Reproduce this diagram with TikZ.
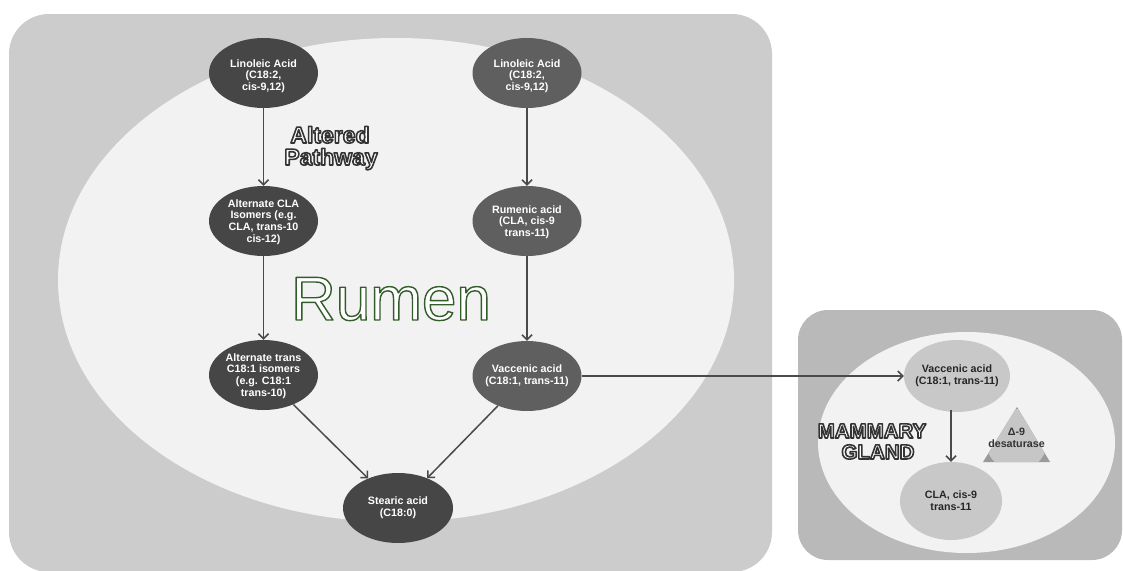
\documentclass[tikz,border=0pt]{standalone}
\usepackage{fontspec}
\setmainfont{Liberation Sans}
\usetikzlibrary{arrows.meta,calc,shapes.geometric}
\definecolor{rumenbox}{HTML}{CCCCCC}
\definecolor{mambox}{HTML}{B9B9B9}
\definecolor{inner}{HTML}{F2F2F2}
\definecolor{darknode}{HTML}{464646}
\definecolor{midnode}{HTML}{5F5F5F}
\definecolor{lightnode}{HTML}{C8C8C8}
\definecolor{arrowc}{HTML}{4A4A4A}
\definecolor{trifill}{HTML}{9A9A9A}
\definecolor{circfill}{HTML}{C6C6C6}
% white text stroked with an outline colour (#1 = "r g b" stroke colour, #2 = line width)
\newcommand\strokedtext[3]{%
  \special{pdf:literal #1 RG #2 w 1 j 2 Tr}#3\special{pdf:literal 0 Tr}}
\tikzset{
  ell/.style={ellipse, inner sep=0, minimum width=109pt, minimum height=70pt, draw=none},
  darkell/.style={ell, fill=darknode},
  midell/.style={ell, fill=midnode},
  lightell/.style={ell, fill=lightnode},
  txt/.style={align=center, inner sep=0, font=\bfseries\fontsize{10.7}{11.7}\selectfont, text=white},
  darktxt/.style={txt, text=black!85},
  arr/.style={draw=arrowc, line width=1.5pt, -{Straight Barb[length=5pt,width=10pt]}},
  biglbl/.style={anchor=base, inner sep=0, text=white, font=\fontsize{62}{62}\selectfont},
  altlbl/.style={anchor=base, inner sep=0, text=white, font=\bfseries\fontsize{23}{23}\selectfont},
  mamlbl/.style={anchor=base, inner sep=0, text=white, font=\bfseries\fontsize{20.5}{20.5}\selectfont},
}
\begin{document}
\begin{tikzpicture}[x=1pt,y=-1pt]
\useasboundingbox (0,0) rectangle (1123,570);
\fill[white] (0,0) rectangle (1123,570);
% rumen area
\fill[rumenbox, rounded corners=40pt] (9,14) rectangle (772,572);
\fill[inner] (396,280) ellipse [x radius=338, y radius=242];
% mammary area
\fill[mambox, rounded corners=30pt] (798,310) rectangle (1122,560);
\fill[inner] (966.5,442.5) ellipse [x radius=148.5, y radius=110.5];

% big labels
\node[biglbl] (rumenlbl) at (391,320) {\strokedtext{0.2 0.36 0.17}{1.4}{Rumen}};
\node[altlbl] (altlblA) at (330,143) {\strokedtext{0.2 0.2 0.2}{1.6}{Altered}};
\node[altlbl] (altlblB) at (331,165) {\strokedtext{0.2 0.2 0.2}{1.6}{Pathway}};
\node[mamlbl] (mamlblA) at (872,438) {\strokedtext{0.2 0.2 0.2}{1.6}{MAMMARY}};
\node[mamlbl] (mamlblB) at (878,459) {\strokedtext{0.2 0.2 0.2}{1.6}{GLAND}};

% left column
\node[darkell] (l1) at (263.5,73) {};
\node[txt] (l1t) at (263.5,76) {Linoleic Acid\\(C18:2,\\cis-9,12)};
\node[darkell] (l2) at (263.5,221) {};
\node[txt] (l2t) at (263.5,222) {Alternate CLA\\Isomers (e.g.\\CLA, trans-10\\cis-12)};
\node[darkell] (l3) at (263.5,375) {};
\node[txt] (l3t) at (263.5,376) {Alternate trans\\C18:1 isomers\\(e.g. C18:1\\trans-10)};
% right column
\node[midell] (r1) at (527,73) {};
\node[txt] (r1t) at (527,76) {Linoleic Acid\\(C18:2,\\cis-9,12)};
\node[midell] (r2) at (527,221) {};
\node[txt] (r2t) at (527,222) {Rumenic acid\\(CLA, cis-9\\trans-11)};
\node[midell] (r3) at (527,376) {};
\node[txt] (r3t) at (527,376) {Vaccenic acid\\(C18:1, trans-11)};
% stearic
\node[darkell, minimum width=110pt] (st) at (398,508) {};
\node[txt] (stt) at (398,508) {Stearic acid\\(C18:0)};

% mammary nodes
\node[lightell, minimum width=106pt, minimum height=72pt] (mv) at (957,376) {};
\node[darktxt] (mvt) at (957,376) {Vaccenic acid\\(C18:1, trans-11)};
\node[lightell, minimum width=102pt, minimum height=78pt] (cla) at (951,501) {};
\node[darktxt] (clat) at (951,501) {CLA, cis-9\\trans-11};
\coordinate (mvout) at (951,410);

% desaturase symbol
\coordinate (tA) at (1017,407);
\coordinate (tB) at (983,462);
\coordinate (tC) at (1050,462);
\fill[trifill] (tA) -- (tB) -- (tC) -- cycle;
\begin{scope}
  \clip (tA) -- (tB) -- (tC) -- cycle;
  \fill[circfill] (1016.5,440) circle [radius=31];
\end{scope}
\node[darktxt, text=black!80] (des) at (1016.5,438) {Δ-9\\desaturase};

% connectors
\draw[arr] (l1) -- (l2);
\draw[arr] (l2) -- (l3);
\draw[arr] (l3) -- (st);
\draw[arr] (r1) -- (r2);
\draw[arr] (r2) -- (r3);
\draw[arr] (r3) -- (st);
\draw[arr] (r3) -- (mv);
\draw[arr] (mvout) -- (cla);
\end{tikzpicture}
\end{document}
